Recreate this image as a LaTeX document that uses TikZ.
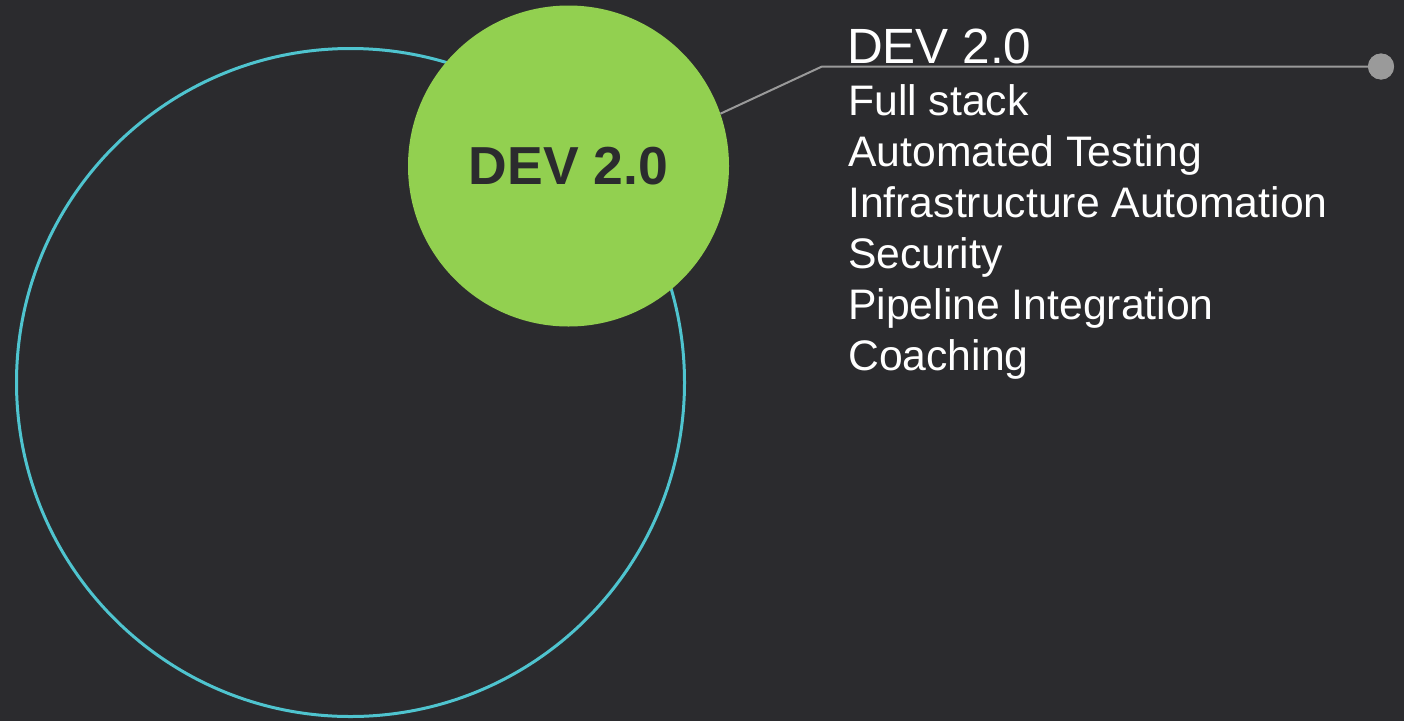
\documentclass[tikz,border=0pt]{standalone}
\usepackage{fontspec}
\setmainfont{Liberation Sans}
\definecolor{bgc}{HTML}{2B2B2E}
\definecolor{tealc}{HTML}{4FC4CF}
\definecolor{greenc}{HTML}{92D050}
\definecolor{grayc}{HTML}{9A9A9A}
\definecolor{darkt}{HTML}{2B2B2E}
\begin{document}
\begin{tikzpicture}[x=1pt,y=1pt,
  bigring/.style={circle, draw=tealc, line width=3pt, minimum size=668pt, inner sep=0pt},
  greenball/.style={circle, fill=greenc, minimum size=321pt, inner sep=0pt, text=darkt,
    font=\fontsize{53.5}{60}\selectfont\bfseries},
  link/.style={draw=grayc, line width=2pt},
  dotend/.style={circle, fill=grayc, minimum size=26pt, inner sep=0pt},
  titletext/.style={anchor=base west, inner sep=0pt, text=white, font=\fontsize{49.5}{51}\selectfont},
  itemtext/.style={anchor=base west, inner sep=0pt, text=white, font=\fontsize{42.7}{51}\selectfont}]
\fill[bgc] (0,0) rectangle (1404,-721);
\useasboundingbox (0,0) rectangle (1404,-721);
\node[bigring] (ring) at (350.5,-382.5) {};
\node[greenball] (ball) at (568.5,-166) {DEV 2.0};
\coordinate (bend) at (822,-66.5);
\node[dotend] (dot) at (1381,-66.5) {};
\draw[link] (ball.19) -- (bend) -- (dot.center);
\node[dotend] at (dot) {};
\node[titletext] (t0) at (847,-63) {DEV 2.0};
\node[itemtext] (t1) at (848,-115) {Full stack};
\node[itemtext] (t2) at (848,-166) {Automated Testing};
\node[itemtext] (t3) at (848,-217) {Infrastructure Automation};
\node[itemtext] (t4) at (848,-268) {Security};
\node[itemtext] (t5) at (848,-319) {Pipeline Integration};
\node[itemtext] (t6) at (848,-370) {Coaching};
\end{tikzpicture}
\end{document}
